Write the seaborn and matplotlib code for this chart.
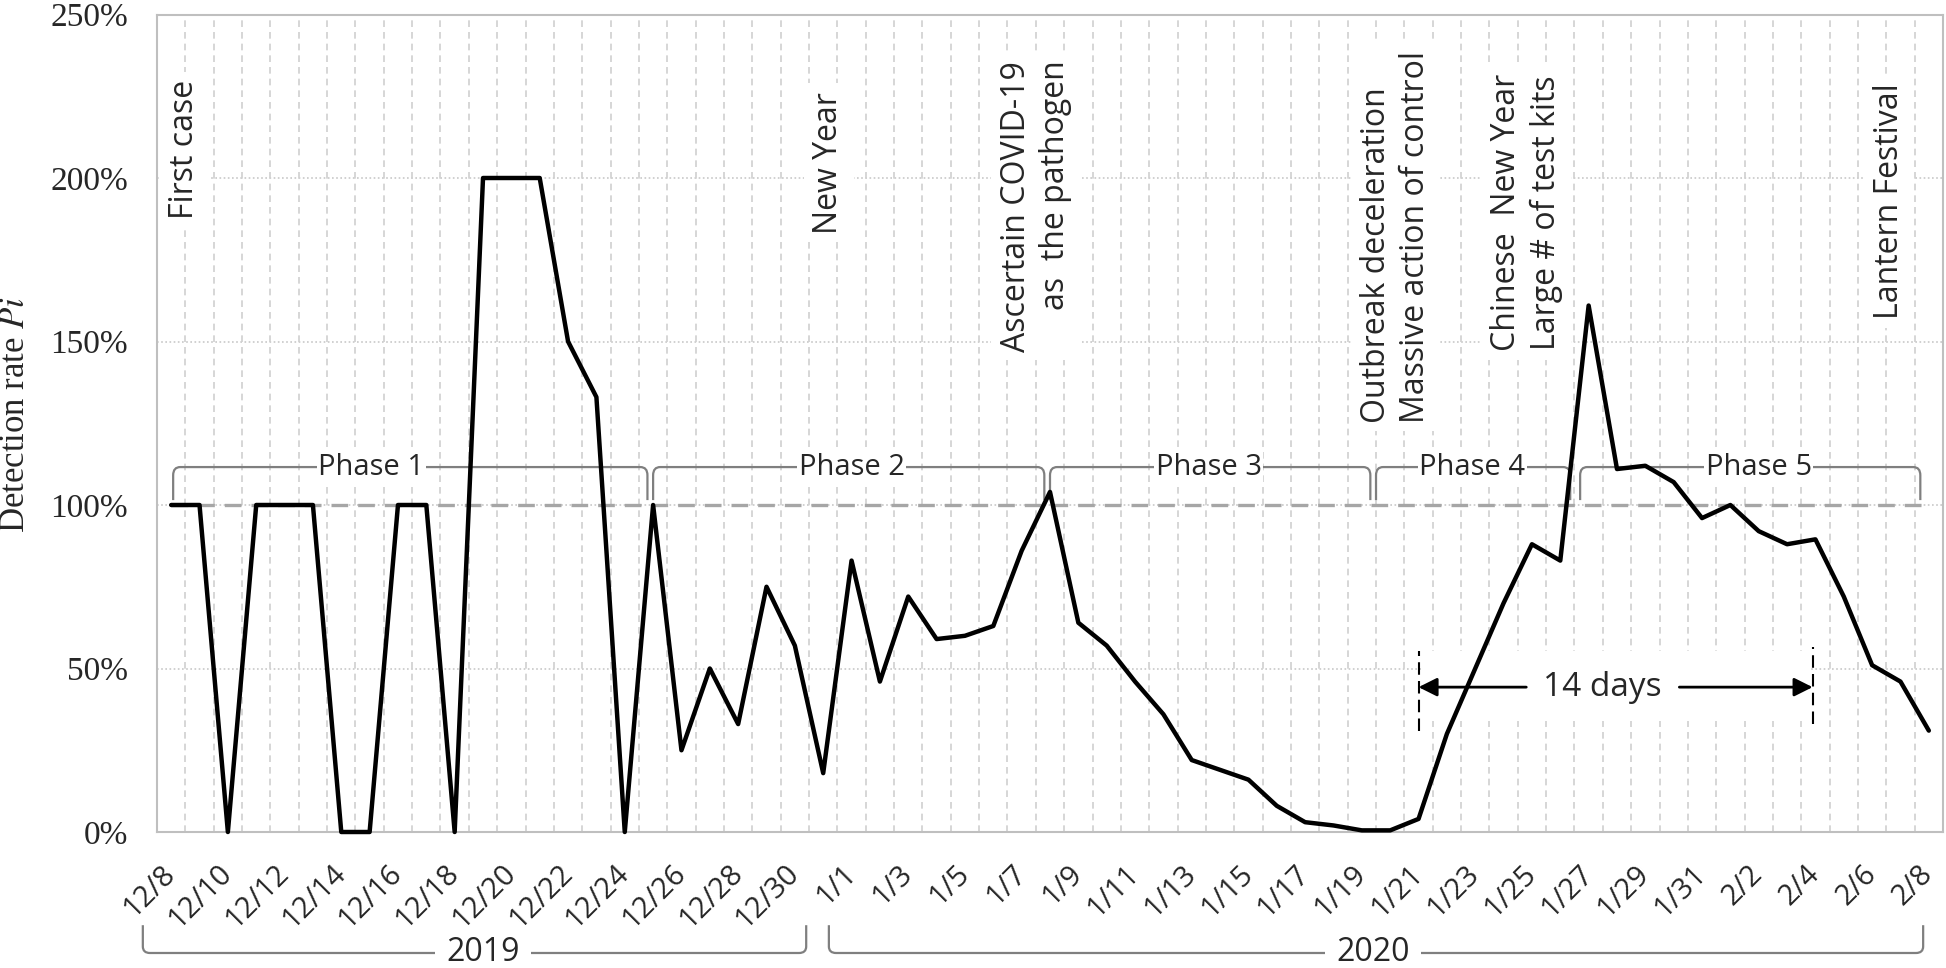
import matplotlib
matplotlib.use('Agg')
import matplotlib.pyplot as plt
from matplotlib.path import Path
from matplotlib.patches import PathPatch, Rectangle
import numpy as np
import pandas as pd
import seaborn as sns

sns.set_style('white')
plt.rcParams['font.family'] = ['Open Sans', 'DejaVu Sans']
plt.rcParams['mathtext.fontset'] = 'stix'

# daily categories 12/8/2019 .. 2/8/2020
dates = pd.date_range('2019-12-08', '2020-02-08', freq='D')
day_labels = [f'{d.month}/{d.day}' for d in dates]

# detection rate Pi in percent
rate = [
    100, 100, 0, 100, 100, 100, 0, 0, 100, 100, 0, 200, 200, 200, 150, 133,
    0, 100, 25, 50, 33, 75, 57, 18,                                   # December
    83, 46, 72, 59, 60, 63, 86, 104, 64, 57, 46, 36, 22, 19, 16, 8,
    3, 2, 0.5, 0.5, 4, 30, 50, 70, 88, 83, 161, 111, 112, 107, 96,    # January
    100, 92, 88, 89.5, 72, 51, 46, 31,                                # February
]

phase_names = ['Phase 1', 'Phase 2', 'Phase 3', 'Phase 4', 'Phase 5']
phase_spans = [(0.07, 16.8), (17.0, 30.8), (31.0, 42.3), (42.5, 49.35), (49.7, 61.7)]
phase_label_x = [7.06, 24.0, 36.6, 45.9, 56.0]

events = ['First case', 'New Year', 'Ascertain COVID-19\nas  the pathogen',
          'Outbreak deceleration\nMassive action of control',
          'Chinese  New Year\nLarge # of test kits', 'Lantern Festival']
event_x = [0.47, 23.2, 30.5, 43.2, 47.8, 60.6]
event_y = [208.6, 204.7, 191.4, 182, 189.4, 192.8]
event_align = ['center', 'center', 'right', 'left', 'center', 'center']

years = ['2019', '2020']
year_spans = [(-1.0, 22.4), (23.2, 61.8)]
year_label_x = [11.0, 42.4]

window_start, window_end = 44.0, 57.9   # 14 days window (1/21 .. 2/4)
window_label_x = 50.5

df = pd.DataFrame({'day': np.arange(len(rate)), 'rate': rate})

W, H = 1946, 968
fig = plt.figure(figsize=(W / 100, H / 100), dpi=100)
ax = fig.add_axes([157 / W, 1 - 832 / H, (1943 - 157) / W, (832 - 14.5) / H])


def bracket(x0, x1, y_line, y_end, dx, dy, **kw):
    s = np.sign(y_end - y_line) * dy
    verts = [(x0, y_end), (x0, y_line + s), (x0, y_line), (x0 + dx, y_line),
             (x1 - dx, y_line), (x1, y_line), (x1, y_line + s), (x1, y_end)]
    codes = [Path.MOVETO, Path.LINETO, Path.CURVE3, Path.CURVE3,
             Path.LINETO, Path.CURVE3, Path.CURVE3, Path.LINETO]
    ax.add_patch(PathPatch(Path(verts, codes), fill=False, **kw))


# grid
for v in [50, 100, 150, 200]:
    ax.axhline(v, color='#c8c8c8', lw=1.2, ls=(0, (1, 1.5)), zorder=0.5)
for i in range(len(rate) - 1):
    ax.axvline(i + 0.5, color='#d0d0d0', lw=1.2, ls=(0, (4, 3)), zorder=0.5)

# reference line at 100%
ax.plot([0, len(rate) - 1], [100, 100], color='#a6a6a6', lw=2.4,
        ls=(0, (5, 3)), zorder=2)

# 14 days window
ax.add_patch(Rectangle((window_start + 0.1, 34), window_end - window_start - 0.2, 21.5,
                       fc='white', ec='none', zorder=1))
ax.plot([window_start] * 2, [31, 55.5], color='black', lw=1.5, ls=(0, (6, 3)), zorder=4)
ax.plot([window_end] * 2, [33, 56.5], color='black', lw=1.5, ls=(0, (6, 3)), zorder=4)
arrow = dict(arrowstyle='-|>', color='black', lw=2, mutation_scale=28,
             shrinkA=0, shrinkB=0)
ax.annotate('', xy=(window_start, 44.3), xytext=(47.8, 44.3), arrowprops=arrow, zorder=4)
ax.annotate('', xy=(window_end, 44.3), xytext=(53.2, 44.3), arrowprops=arrow, zorder=4)
ax.text(window_label_x, 44.3, '14 days', ha='center', va='center', fontsize=24,
        zorder=4)

# data line
sns.lineplot(data=df, x='day', y='rate', color='black', linewidth=3.2, ax=ax,
             zorder=5, clip_on=False)

# phases
for name, (x0, x1), lx in zip(phase_names, phase_spans, phase_label_x):
    bracket(x0, x1, 111.6, 101.5, 0.25, 2.5, ec='#7f7f7f', lw=1.6, zorder=3)
    ax.text(lx, 111.6, name, ha='center', va='center', fontsize=21, zorder=4,
            bbox=dict(fc='white', ec='none', pad=1))

# events
for txt, x, y, al in zip(events, event_x, event_y, event_align):
    ax.text(x, y, txt, rotation=90, ha='center', va='center', multialignment=al,
            fontsize=23, linespacing=1.25, zorder=3,
            bbox=dict(fc='white', ec='none', pad=6))

# years
for name, (x0, x1), lx in zip(years, year_spans, year_label_x):
    bracket(x0, x1, -37, -28.5, 0.25, 2, ec='#7f7f7f', lw=1.6, clip_on=False)
    ax.text(lx, -37, name, ha='center', va='center', fontsize=23, clip_on=False,
            bbox=dict(fc='white', ec='none', pad=8))

ax.set_xlim(-0.5, len(rate) - 0.5)
ax.set_ylim(0, 250)
ax.set_xticks(range(0, len(rate), 2))
ax.set_xticklabels(day_labels[::2], rotation=45, ha='right', va='center',
                   rotation_mode='anchor', fontsize=21)
ax.set_yticks(range(0, 251, 50))
ax.set_yticklabels([f'{v}%' for v in range(0, 251, 50)],
                   fontfamily='Liberation Serif', fontsize=24)
ax.tick_params(axis='x', length=0, pad=27)
ax.tick_params(axis='y', length=0, pad=21)
ax.set_xlabel('')
ax.set_ylabel('')
for sp in ax.spines.values():
    sp.set_color('#bfbfbf')
    sp.set_linewidth(1.5)

fig.text(16 / W, 1 - 415 / H, r'Detection rate $Pi$', rotation=90, ha='center',
         va='center', fontfamily='Liberation Serif', fontsize=25)

fig.savefig('out.png', dpi=100)
